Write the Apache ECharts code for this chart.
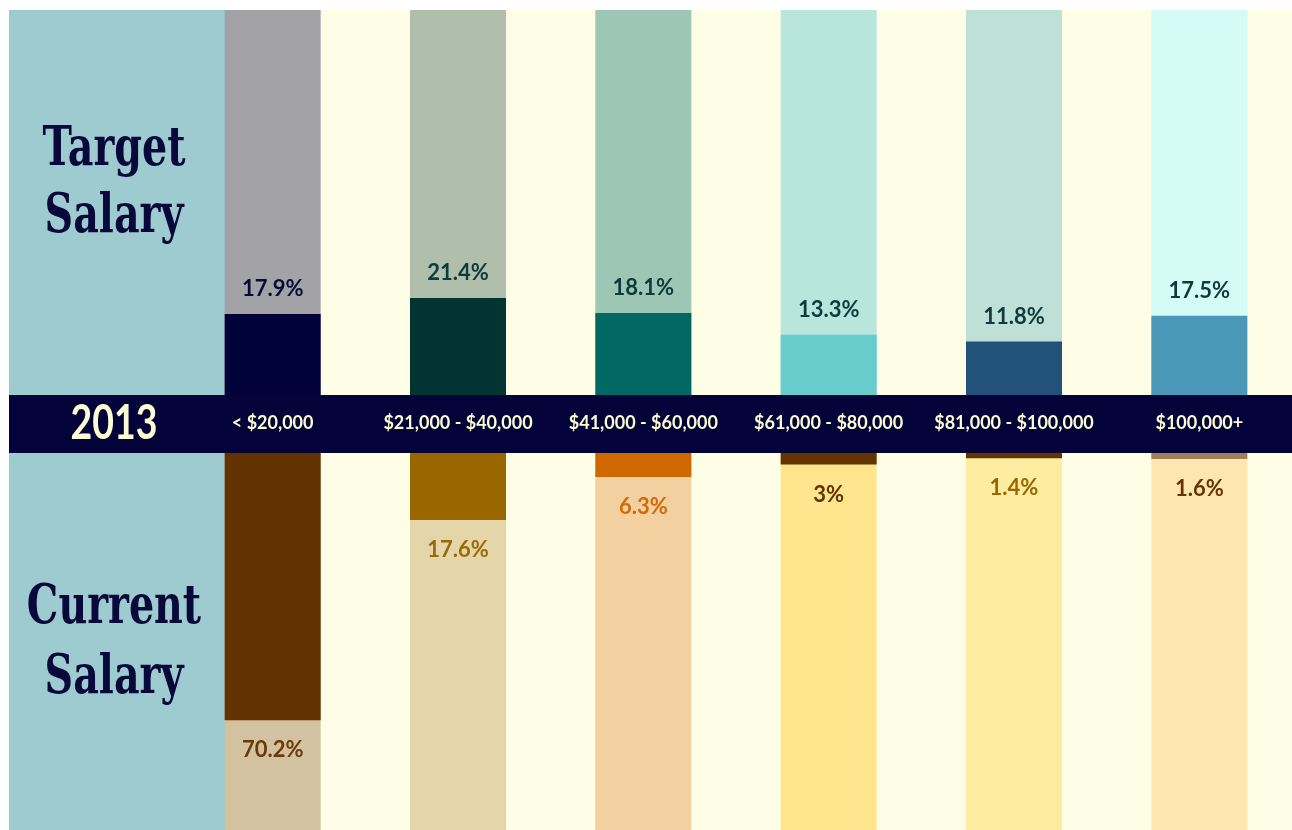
<!DOCTYPE html>
<html>
<head>
<meta charset="utf-8">
<script src="https://cdn.jsdelivr.net/npm/echarts@6/dist/echarts.min.js"></script>
<style>html,body{margin:0;padding:0;background:#fff;}#c{width:1292px;height:830px;}</style>
</head>
<body>
<div id="c"></div>
<script>
const year = '2013';
const categories = ['< $20,000', '$21,000 - $40,000', '$41,000 - $60,000', '$61,000 - $80,000', '$81,000 - $100,000', '$100,000+'];
const targetValues = [17.9, 21.4, 18.1, 13.3, 11.8, 17.5];
const currentValues = [70.2, 17.6, 6.3, 3, 1.4, 1.6];

const targetDark = ['#02023a', '#023434', '#026864', '#66cccc', '#22527a', '#4a98b8'];
const targetLight = ['#a3a2a7', '#b0bfac', '#9dc6b4', '#b8e6dc', '#bfe0d6', '#d4fbf6'];
const targetLabel = ['#0a0a3a', '#0d3a3a', '#0d3a3a', '#0d3a3a', '#0d3a3a', '#0d3a3a'];
const currentDark = ['#623300', '#9a6600', '#d06800', '#643300', '#643300', '#a0825a'];
const currentLight = ['#d2c2a0', '#e4d6a8', '#f2d0a0', '#fee58e', '#feeda0', '#fee6b0'];
const currentLabel = ['#6a3a0a', '#9a6a0a', '#d06a0a', '#643300', '#9a6600', '#643300'];

const TOP_MAX = 85, BOT_MAX = 99;
const chart = echarts.init(document.getElementById('c'));
const lbl = {fontFamily: 'Lato', fontSize: 22, fontWeight: 'bold'};
const titleFont = 'bold 55px "DejaVu Serif Condensed", "DejaVu Serif", serif';
const titleText = (t, y) => ({type: 'text', z: 100, x: 114, y: y, scaleX: 0.8,
  style: {text: t, fill: '#08083a', font: titleFont, align: 'center', verticalAlign: 'middle'}});

chart.setOption({
  backgroundColor: '#ffffff',
  animation: false,
  graphic: [
    {type: 'rect', z: -10, shape: {x: 9, y: 10, width: 1283, height: 820}, style: {fill: '#fefde5'}},
    {type: 'rect', z: -9, shape: {x: 9, y: 10, width: 219, height: 820}, style: {fill: '#9ecbcf'}},
    {type: 'rect', z: -8, shape: {x: 9, y: 395, width: 1283, height: 58}, style: {fill: '#03033a'}},
    titleText('Target', 151),
    titleText('Salary', 218),
    titleText('Current', 609),
    titleText('Salary', 679),
    {type: 'text', z: 100, x: 114, y: 424, scaleX: 0.78, style: {text: year, fill: '#fdfbd2', font: 'bold 48px Lato', align: 'center', verticalAlign: 'middle'}}
  ],
  grid: [
    {left: 180, width: 1116, top: 10, height: 385},
    {left: 180, width: 1116, top: 453, height: 377}
  ],
  xAxis: [
    {type: 'category', gridIndex: 0, data: categories, axisLine: {show: false}, axisTick: {show: false},
     axisLabel: {color: '#fdfbd2', fontFamily: 'Lato', fontSize: 18, fontWeight: 'bold', margin: 19, interval: 0}},
    {type: 'category', gridIndex: 1, data: categories, show: false}
  ],
  yAxis: [
    {type: 'value', gridIndex: 0, min: 0, max: TOP_MAX, show: false, splitLine: {show: false}},
    {type: 'value', gridIndex: 1, min: 0, max: BOT_MAX, inverse: true, show: false, splitLine: {show: false}}
  ],
  series: [
    {type: 'bar', xAxisIndex: 0, yAxisIndex: 0, barWidth: 96, silent: true,
     data: categories.map((c, i) => ({value: TOP_MAX, itemStyle: {color: targetLight[i]}}))},
    {type: 'bar', xAxisIndex: 0, yAxisIndex: 0, barWidth: 96, barGap: '-100%',
     data: targetValues.map((v, i) => ({value: v, itemStyle: {color: targetDark[i]},
       label: Object.assign({show: true, position: 'top', distance: 14, formatter: '{c}%', color: targetLabel[i]}, lbl)}))},
    {type: 'bar', xAxisIndex: 1, yAxisIndex: 1, barWidth: 96, silent: true,
     data: categories.map((c, i) => ({value: BOT_MAX, itemStyle: {color: currentLight[i]}}))},
    {type: 'bar', xAxisIndex: 1, yAxisIndex: 1, barWidth: 96, barGap: '-100%',
     data: currentValues.map((v, i) => ({value: v, itemStyle: {color: currentDark[i]},
       label: Object.assign({show: true, position: 'bottom', distance: 19, formatter: '{c}%', color: currentLabel[i]}, lbl)}))}
  ]
});
</script>
</body>
</html>
